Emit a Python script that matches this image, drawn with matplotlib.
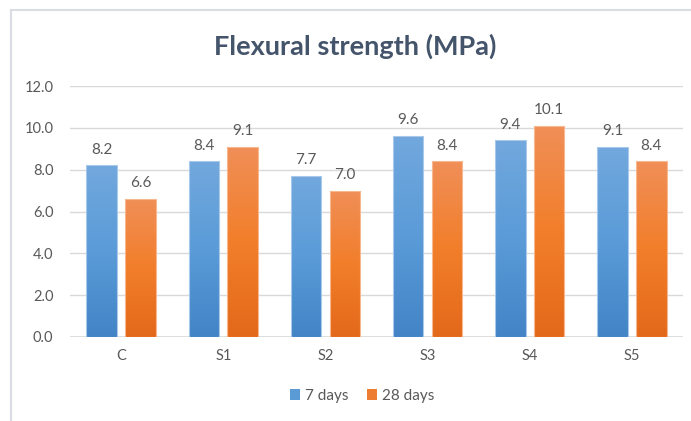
import numpy as np
import matplotlib
matplotlib.use("Agg")
import matplotlib.pyplot as plt
from matplotlib.colors import LinearSegmentedColormap
from matplotlib.lines import Line2D
from matplotlib.patches import Rectangle

categories = ["C", "S1", "S2", "S3", "S4", "S5"]
days7 = [8.2, 8.4, 7.7, 9.6, 9.4, 9.1]
days28 = [6.6, 9.1, 7.0, 8.4, 10.1, 8.4]
series_names = ["7 days", "28 days"]
yticks = [0, 2, 4, 6, 8, 10, 12]

FONT = ["Lato", "DejaVu Sans"]
TEXT = "#595959"
TITLE = "#44546a"
GRID = "#d9d9d9"

blue_cmap = LinearSegmentedColormap.from_list("b", ["#4284c6", "#5a9bd8", "#72a8dd"])
orange_cmap = LinearSegmentedColormap.from_list("o", ["#e3691a", "#f27e2a", "#f08f58"])

fig = plt.figure(figsize=(6.91, 4.21), dpi=100)
ax = fig.add_axes([70 / 691, 1 - 337 / 421, (683 - 70) / 691, (337 - 86) / 421])

x = np.arange(len(categories))
width = 0.30
offset = 0.19
grad = np.linspace(0, 1, 256).reshape(-1, 1)

for vals, off, cmap, edge in [(days7, -offset, blue_cmap, "#a9c9ea"),
                              (days28, offset, orange_cmap, "#f7b890")]:
    for xi, v in zip(x, vals):
        x0 = xi + off - width / 2
        rect = Rectangle((x0, 0), width, v, facecolor="none",
                         edgecolor=edge, lw=0.8, zorder=3)
        ax.add_patch(rect)
        im = ax.imshow(grad, cmap=cmap, extent=[x0, x0 + width, 0, v],
                       origin="lower", aspect="auto", zorder=2)
        im.set_clip_path(rect)
        ax.text(xi + off, v + 0.42, f"{v:.1f}", ha="center", va="bottom",
                fontsize=11, color=TEXT, family=FONT)

ax.set_xlim(-0.5, len(categories) - 0.5)
ax.set_ylim(0, 12)
ax.set_yticks(yticks)
ax.set_yticklabels([f"{t:.1f}" for t in yticks], family=FONT, fontsize=10.5, color=TEXT)
ax.set_xticks(x)
ax.set_xticklabels(categories, family=FONT, fontsize=10.5, color=TEXT)
ax.tick_params(length=0, pad=9)
ax.tick_params(axis="y", pad=12)
for s in ax.spines.values():
    s.set_visible(False)
ax.grid(axis="y", color=GRID, lw=1.0, zorder=0)
ax.set_axisbelow(True)
ax.axhline(0, color=GRID, lw=1.2, zorder=1)

fig.text(355 / 691, 1 - 46 / 421, "Flexural strength (MPa)", ha="center", va="center",
         fontsize=19.5, fontweight="bold", color=TITLE, family=FONT)

handles = [Rectangle((0, 0), 1, 1, facecolor="#5b9bd5"),
           Rectangle((0, 0), 1, 1, facecolor="#ed7d31")]
fig.legend(handles, series_names, loc="center", bbox_to_anchor=(362 / 691, 1 - 396 / 421),
           ncol=2, frameon=False, handlelength=0.7, handleheight=0.7, handletextpad=0.3,
           columnspacing=1.2, prop={"family": FONT, "size": 11}, labelcolor=TEXT)

fig.add_artist(Line2D([11 / 691, 11 / 691], [0, 1 - 10 / 421], transform=fig.transFigure,
                      color="#d9dde3", lw=1.5))
fig.add_artist(Line2D([11 / 691, 1], [1 - 10 / 421, 1 - 10 / 421], transform=fig.transFigure,
                      color="#d9dde3", lw=1.5))

fig.savefig("out.png", dpi=100)
